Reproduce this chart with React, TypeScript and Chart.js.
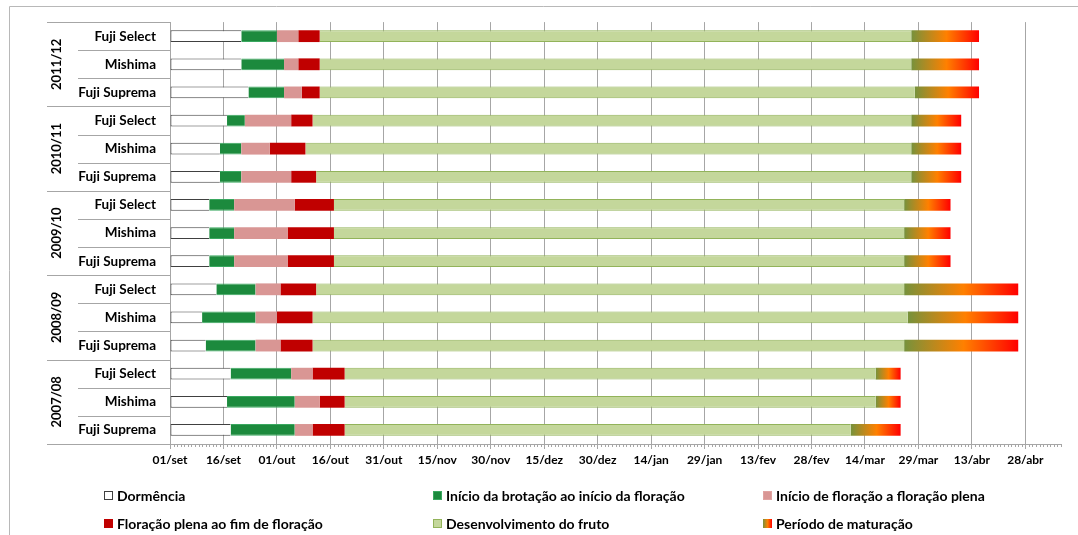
import React, { useEffect, useRef } from 'react';
import { Chart, registerables } from 'chart.js';

Chart.register(...registerables);

// ---------- data ----------
const seasons = ['2011/12', '2010/11', '2009/10', '2008/09', '2007/08'];
const cultivars = ['Fuji Select', 'Mishima', 'Fuji Suprema'];
const rowLabels = [
  'Fuji Select', 'Mishima', 'Fuji Suprema',
  'Fuji Select', 'Mishima', 'Fuji Suprema',
  'Fuji Select', 'Mishima', 'Fuji Suprema',
  'Fuji Select', 'Mishima', 'Fuji Suprema',
  'Fuji Select', 'Mishima', 'Fuji Suprema',
];

const tickLabels = [
  '01/set', '16/set', '01/out', '16/out', '31/out', '15/nov', '30/nov', '15/dez', '30/dez',
  '14/jan', '29/jan', '13/fev', '28/fev', '14/mar', '29/mar', '13/abr', '28/abr',
];

const phaseLabels = [
  'Dormência',
  'Início da brotação ao início da floração',
  'Início de floração a floração plena',
  'Floração plena ao fim de floração',
  'Desenvolvimento do fruto',
  'Período de maturação',
];

// days after 01/set
const dormStart = [0, 0, 0, 0, 0, 0, 0, 0, 0, 0, 0, 0, 0, 0, 0];
const dormEnd = [20, 20, 22, 16, 14, 14, 11, 11, 11, 13, 9, 10, 17, 16, 17];
const budEnd = [30, 32, 32, 21, 20, 20, 18, 18, 18, 24, 24, 24, 34, 35, 35];
const bloomStartEnd = [36, 36, 37, 34, 28, 34, 35, 33, 33, 31, 30, 31, 40, 42, 40];
const bloomEnd = [42, 42, 42, 40, 38, 41, 46, 46, 46, 41, 40, 40, 49, 49, 49];
const fruitEnd = [208, 208, 209, 208, 208, 208, 206, 206, 206, 206, 207, 206, 198, 198, 191];
const harvestEnd = [227, 227, 227, 222, 222, 222, 219, 219, 219, 238, 238, 238, 205, 205, 205];

const phaseBounds = [dormStart, dormEnd, budEnd, bloomStartEnd, bloomEnd, fruitEnd, harvestEnd];

// ---------- styles ----------
const FONT = 'Lato, "Open Sans", sans-serif';
const GRID = '#a6a6a6';
const phaseFill = ['#ffffff', '#1c8a3d', '#d99694', '#c00000', '#c4d79b', 'gradient'];
const phaseBorder = ['#404040', '#3aa860', '#e0a3a1', '#c00000', '#92b35a', 'transparent'];

function maturationGradient(ctx: CanvasRenderingContext2D, x0: number, x1: number) {
  const g = ctx.createLinearGradient(x0, 0, x1, 0);
  g.addColorStop(0, '#76923c');
  g.addColorStop(0.52, '#ff8000');
  g.addColorStop(1, '#ff0000');
  return g;
}

const framePlugin = {
  id: 'frame',
  beforeDraw(chart: any) {
    const ctx = chart.ctx as CanvasRenderingContext2D;
    ctx.save();
    ctx.fillStyle = '#ffffff';
    ctx.fillRect(0, 0, chart.width, chart.height);
    ctx.strokeStyle = '#b8b8b8';
    ctx.lineWidth = 1;
    ctx.beginPath();
    ctx.moveTo(9.5, chart.height);
    ctx.lineTo(9.5, 6.5);
    ctx.lineTo(chart.width, 6.5);
    ctx.stroke();
    ctx.restore();
  },
};

const axisDecorPlugin = {
  id: 'axisDecor',
  afterDraw(chart: any) {
    const ctx = chart.ctx as CanvasRenderingContext2D;
    const xs = chart.scales.x;
    const ys = chart.scales.y;
    const area = chart.chartArea;
    ctx.save();
    ctx.strokeStyle = GRID;
    ctx.lineWidth = 1;
    // minor ticks (daily)
    ctx.beginPath();
    for (let d = 0; d <= xs.max; d++) {
      if (d % 15 === 0) continue;
      const x = Math.round(xs.getPixelForValue(d)) + 0.5;
      ctx.moveTo(x, area.bottom);
      ctx.lineTo(x, area.bottom + 3);
    }
    ctx.stroke();
    // row separators in label area
    ctx.beginPath();
    const n = rowLabels.length;
    for (let i = 0; i <= n; i++) {
      const y = Math.round(ys.getPixelForValue(i - 0.5)) + 0.5;
      const x0 = i % cultivars.length === 0 ? 47 : 78;
      ctx.moveTo(x0, y);
      ctx.lineTo(area.left, y);
    }
    ctx.stroke();
    // season labels
    ctx.fillStyle = '#000';
    ctx.font = `bold 13px ${FONT}`;
    ctx.textAlign = 'center';
    ctx.textBaseline = 'middle';
    seasons.forEach((s, g) => {
      const yc = ys.getPixelForValue(g * cultivars.length + 1);
      ctx.save();
      ctx.translate(57, yc);
      ctx.rotate(-Math.PI / 2);
      ctx.fillText(s, 0, 0);
      ctx.restore();
    });
    ctx.restore();
  },
};

const legendPlugin = {
  id: 'gridLegend',
  afterDraw(chart: any) {
    const ctx = chart.ctx as CanvasRenderingContext2D;
    const cols = [104, 433, 763];
    const rows = [495, 523];
    ctx.save();
    ctx.font = `bold 14px ${FONT}`;
    ctx.textBaseline = 'middle';
    ctx.textAlign = 'left';
    chart.data.datasets.forEach((ds: any, i: number) => {
      const x = cols[i % 3];
      const y = rows[Math.floor(i / 3)];
      const bx = x, by = y - 4, s = 9;
      if (phaseFill[i] === 'gradient') {
        ctx.fillStyle = maturationGradient(ctx, bx, bx + s);
      } else {
        ctx.fillStyle = phaseFill[i];
      }
      ctx.fillRect(bx, by, s, s);
      if (phaseBorder[i] !== 'transparent') {
        ctx.strokeStyle = phaseBorder[i];
        ctx.lineWidth = 1;
        ctx.strokeRect(bx + 0.5, by + 0.5, s - 1, s - 1);
      }
      ctx.fillStyle = '#000';
      ctx.fillText(ds.label, bx + s + 4, y + 1);
    });
    ctx.restore();
  },
};

export default function App() {
  const ref = useRef<HTMLCanvasElement | null>(null);

  useEffect(() => {
    if (!ref.current) return;
    const datasets = phaseLabels.map((label, k) => {
      const base: any = {
        label,
        data: rowLabels.map((_, r) => [phaseBounds[k][r], phaseBounds[k + 1][r]]),
        backgroundColor: phaseFill[k],
        borderColor: phaseBorder[k],
        borderWidth: 0,
        borderSkipped: false,
      };
      if (k === 0) {
        base.borderWidth = { top: 1, bottom: 1, left: 1, right: 0 };
      } else if (k === 1) {
        base.borderWidth = { top: 1, bottom: 1, left: 0, right: 0 };
      } else if (k === 4) {
        base.borderWidth = { top: 1, bottom: 1, left: 0, right: 0 };
      } else if (k === 5) {
        base.backgroundColor = (c: any) => {
          const chart = c.chart;
          if (!chart.chartArea || c.type !== 'data' || !Array.isArray(c.raw)) return '#ff8000';
          const xs = chart.scales.x;
          const x0 = xs.getPixelForValue(c.raw[0]);
          const x1 = xs.getPixelForValue(c.raw[1]);
          if (!isFinite(x0) || !isFinite(x1)) return '#ff8000';
          return maturationGradient(chart.ctx, x0, x1);
        };
      }
      return base;
    });

    const chart = new Chart(ref.current, {
      type: 'bar',
      data: { labels: rowLabels, datasets },
      options: {
        indexAxis: 'y',
        animation: false,
        responsive: false,
        devicePixelRatio: 1,
        layout: { padding: { top: 18, right: 17, bottom: 51, left: 0 } },
        datasets: { bar: { grouped: false, categoryPercentage: 1, barPercentage: 0.42 } } as any,
        plugins: { legend: { display: false }, tooltip: { enabled: false } },
        scales: {
          x: {
            type: 'linear',
            position: 'bottom',
            min: 0,
            max: 250,
            afterFit: (s: any) => { s.height = 40; },
            grid: { color: GRID, lineWidth: 1, tickLength: 5, tickColor: GRID },
            border: { color: GRID },
            ticks: {
              stepSize: 15,
              includeBounds: false,
              autoSkip: false,
              maxRotation: 0,
              padding: 4,
              color: '#000',
              font: { family: FONT, size: 12, weight: 'bold' },
              callback: (v: any) => tickLabels[Math.round(Number(v) / 15)] ?? '',
            },
          },
          y: {
            type: 'category',
            offset: true,
            afterFit: (s: any) => { s.width = 170; },
            grid: { display: true, drawOnChartArea: false, drawTicks: false },
            border: { display: true, color: GRID },
            ticks: {
              padding: 14,
              autoSkip: false,
              color: '#000',
              font: { family: FONT, size: 13.5, weight: 'bold' },
            },
          },
        },
      } as any,
      plugins: [framePlugin, axisDecorPlugin, legendPlugin],
    });

    if ((document as any).fonts?.load) {
      (document as any).fonts.load(`bold 12px Lato`).then(() => chart.update()).catch(() => {});
    }

    return () => chart.destroy();
  }, []);

  return (
    <div style={{ position: 'absolute', left: 0, top: 0, width: 1078, height: 535 }}>
      <canvas ref={ref} width={1078} height={535} style={{ display: 'block' }} />
    </div>
  );
}
